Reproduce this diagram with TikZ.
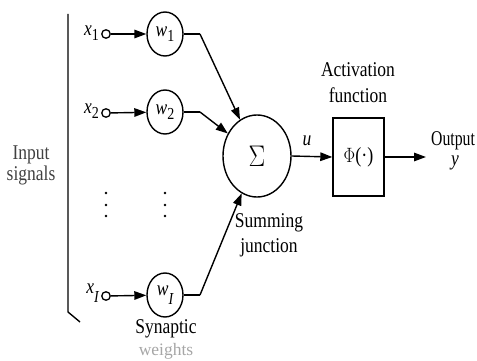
\documentclass[tikz,border=0pt]{standalone}
\usepackage{graphicx}
\usepackage{fontspec}
\setmainfont{Liberation Serif}
\usetikzlibrary{shapes.geometric,arrows.meta}
\newcommand\stt[1]{\scalebox{1}[1.2]{#1}}
\newcommand\sbs[1]{\raisebox{-0.5ex}{\fontsize{14}{14}\selectfont #1}}
\newcommand\sbI{\raisebox{-1.0ex}{\fontsize{14}{14}\selectfont\itshape I}}
\tikzset{
  lbl/.style={font=\fontsize{17.5}{20}\selectfont, inner sep=0pt},
  wnode/.style={ellipse, draw, line width=1.4pt, minimum width=36pt, minimum height=44pt, inner sep=0pt, font=\fontsize{17.5}{20}\selectfont},
  signode/.style={ellipse, draw, line width=1.4pt, minimum width=68pt, minimum height=82pt, inner sep=0pt, font=\fontsize{27}{28}\selectfont},
  actbox/.style={rectangle, draw, line width=1.4pt, minimum width=51pt, minimum height=78pt, inner sep=0pt, font=\fontsize{18}{20}\selectfont},
  inp/.style={circle, draw, line width=1.3pt, minimum size=8.5pt, inner sep=0pt, fill=white},
  arr/.style={-{Triangle[length=12pt,width=8.5pt]}, line width=1.4pt},
  ln/.style={line width=1.4pt},
  dotc/.style={circle, fill=black, inner sep=0pt, minimum size=2.6pt}
}
\begin{document}
\begin{tikzpicture}[x=1pt,y=-1pt]
\useasboundingbox (0,0) rectangle (477,361);
\clip (0,0) rectangle (477,361);
% bracket
\coordinate (bt) at (68,14);
\coordinate (bb) at (68,312);
\coordinate (be) at (80,322);
\draw[ln] (bt) -- (bb) -- (be);
% input labels
\node[lbl, text=black!75] (il1) at (31,155) {\stt{Input}};
\node[lbl, text=black!75] (il2) at (31,175) {\stt{signals}};
% inputs
\node[lbl, anchor=east] (x1) at (99,33) {\stt{\textit{x}\sbs{1}}};
\node[lbl, anchor=east] (x2) at (99,111) {\stt{\textit{x}\sbs{2}}};
\node[lbl, anchor=east] (xI) at (99,293) {\stt{\textit{x}\sbI}};
\node[inp] (c1) at (106,34) {};
\node[inp] (c2) at (106,113) {};
\node[inp] (cI) at (106,296) {};
\node[wnode] (w1) at (165,34) {\stt{\textit{w}\sbs{1}}};
\node[wnode] (w2) at (165,112) {\stt{\textit{w}\sbs{2}}};
\node[wnode] (wI) at (165,295) {\stt{\textit{w}\sbI}};
\draw[arr] (c1) -- (w1);
\draw[arr] (c2) -- (w2);
\draw[arr] (cI) -- (wI);
% dots
\foreach \yy in {193,205,216} {
  \node[dotc] at (106,\yy) {};
  \node[dotc] at (165,\yy) {};
}
% summing junction
\node[signode] (sig) at (257,156) {\stt{$\Sigma$}};
\coordinate (k1) at (200,34);
\coordinate (k2) at (200,112);
\coordinate (kI) at (200,295);
\draw[ln] (w1.east) -- (k1);
\draw[ln] (w2.east) -- (k2);
\draw[ln] (wI.east) -- (kI);
\draw[arr] (k1) -- (sig);
\draw[arr] (k2) -- (sig);
\draw[arr] (kI) -- (sig);
\node[lbl] (sum1) at (269,223) {\stt{Summing}};
\node[lbl] (sum2) at (269,248) {\stt{junction}};
% activation
\node[actbox] (act) at (358.5,157) {\stt{$\Phi$(·)}};
\draw[arr] (sig.east) -- (act.west);
\node[lbl] (u) at (307,141) {\stt{\textit{u}}};
\node[lbl] (a1) at (358,70) {\stt{Activation}};
\node[lbl] (a2) at (358,95) {\stt{function}};
\coordinate (out) at (426,157);
\draw[arr] (act.east) -- (out);
\node[lbl, anchor=west] (o1) at (431,141) {\scalebox{0.9}[1.2]{Output}};
\node[lbl] (o2) at (455,163) {\stt{\textit{y}}};
% synaptic weights
\node[lbl] (s1) at (166,329) {\stt{Synaptic}};
\node[lbl, text=black!35] (s2) at (166,351) {weights};
\end{tikzpicture}
\end{document}
